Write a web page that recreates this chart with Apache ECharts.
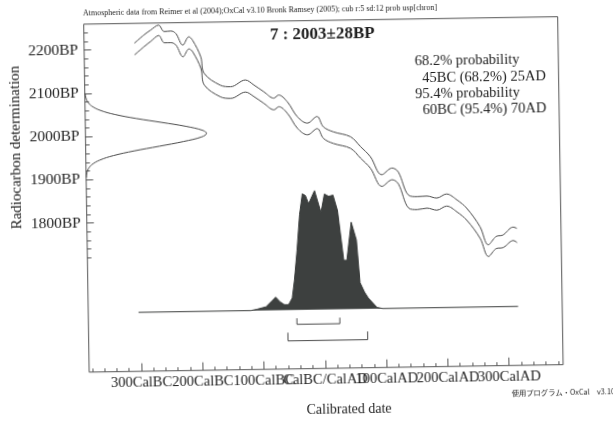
<!DOCTYPE html>
<html>
<head>
<meta charset="utf-8">
<script src="https://cdn.jsdelivr.net/npm/echarts@6/dist/echarts.min.js"></script>
<style>
html,body{margin:0;padding:0;background:#fff;overflow:hidden;}
#chart{width:613px;height:421px;transform:rotate(-0.9deg);transform-origin:306.5px 210.5px;}
</style>
</head>
<body>
<div id="chart"></div>
<script>
// Calibration curve envelope (IntCal04, ±1 sigma): calendar year (BC < 0) vs radiocarbon age BP
const curveYears = [-303,-287,-276,-263,-254,-243,-235,-224,-214,-208,-195,-190,-164,-147,-123,-109,-93,-77,-69,-55,-39,-23,-7,3,19,47,63,79,97,114,124,140,154,170,186,202,219,235,256,269,282,293,310,316];
const curveUpper = [2214,2233,2244,2255,2240,2241,2235,2208,2227,2219,2180,2142,2114,2110,2125,2113,2097,2082,2089,2073,2038,2023,2038,2014,2002,1990,1967,1943,1901,1916,1907,1853,1849,1850,1845,1854,1840,1820,1777,1735,1754,1757,1775,1772];
const curveLower = [2187,2206,2218,2231,2214,2214,2208,2181,2199,2192,2153,2115,2087,2083,2097,2086,2070,2055,2062,2046,2011,1996,2010,1987,1975,1963,1940,1916,1874,1889,1879,1823,1819,1822,1817,1826,1812,1792,1750,1708,1726,1728,1744,1739];

// Radiocarbon measurement 2003±28 BP as a relative probability profile
const sampleBP   = [2100,2090,2080,2070,2060,2050,2040,2030,2020,2010,2003,1995,1985,1975,1965,1955,1945,1935,1925,1915,1905];
const sampleProb = [0.003,0.008,0.023,0.057,0.126,0.245,0.42,0.63,0.83,0.97,1.0,0.96,0.81,0.61,0.40,0.23,0.115,0.05,0.019,0.006,0.002];

// Calibrated date: relative probability by calendar year
const calYears = [-303,-120,-110,-95,-85,-79,-72,-65,-58,-52,-48,-43,-38,-33,-28,-23,-13,-3,3,10,17,24,33,38,46,54,59,66,72,86,95,316];
const calProb  = [0,0,0.01,0.03,0.08,0.11,0.07,0.045,0.045,0.1,0.25,0.5,0.8,0.975,0.96,0.89,1.0,0.815,0.97,0.95,0.96,0.83,0.41,0.41,0.73,0.58,0.22,0.14,0.09,0.01,0,0];

// Calibrated ranges
const range68 = [-45, 25];
const range95 = [-60, 70];

// Axis ticks and labels
const xTickValues = [-300,-200,-100,0,100,200,300];
const xTickLabels = ['300CalBC','200CalBC','100CalBC','CalBC/CalAD','100CalAD','200CalAD','300CalAD'];
const yTickValues = [1800,1900,2000,2100,2200];
const yTickLabels = ['1800BP','1900BP','2000BP','2100BP','2200BP'];

// Text blocks
const headerText = 'Atmospheric data from Reimer et al (2004);OxCal v3.10 Bronk Ramsey (2005); cub r:5 sd:12 prob usp[chron]';
const sampleLabel = '7 : 2003\u00b128BP';
const rangeLines = ['68.2% probability', '  45BC (68.2%) 25AD', '95.4% probability', '  60BC (95.4%) 70AD'];
const xTitle = 'Calibrated date';
const yTitle = 'Radiocarbon determination';
const footerText = '使用プログラム・OxCal\u3000v3.10';

const SERIF = '"Liberation Serif", "Times New Roman", serif';
const INK = '#1e1e1e';
const LINE = '#4a4a4a';
const FRAME = '#555';

const xMinorTicks = [];
for (let v = -380; v <= 380; v += 20) xMinorTicks.push(v);
const yMinorTicks = [];
for (let v = 1720; v <= 2240; v += 20) yMinorTicks.push(v);

// Neighbouring calendar labels overlap, so they are split over two label rows at the same place
const xLabelsOdd = xTickValues.filter((_, i) => i % 2 === 0);
const xLabelsEven = xTickValues.filter((_, i) => i % 2 === 1);
const xLabelText = v => xTickLabels[xTickValues.indexOf(v)];

const zip = (a, b) => a.map((v, i) => [v, b[i]]);

function bracket(range, level, tickTop) {
  return [[range[0], tickTop], [range[0], level], [range[1], level], [range[1], tickTop]];
}

const X_MIN = -385, X_MAX = 388;
const Y_MIN = 1455, Y_MAX = 2260;

const noLine = { show: false, onZero: false };
const xLabelStyle = { margin: 4, showMinLabel: true, showMaxLabel: true, hideOverlap: false,
  formatter: xLabelText, fontFamily: SERIF, fontSize: 14.5, color: INK };

const chart = echarts.init(document.getElementById('chart'), null, { renderer: 'canvas' });

const option = {
  backgroundColor: '#fff',
  animation: false,
  grid: {
    left: 86.7, top: 20.7, width: 474, height: 348,
    show: true, borderColor: FRAME, borderWidth: 1, backgroundColor: 'transparent'
  },
  xAxis: [
    {
      type: 'value', min: X_MIN, max: X_MAX, position: 'bottom',
      axisLine: noLine, splitLine: { show: false },
      axisTick: { show: true, inside: true, length: 8, customValues: xTickValues, lineStyle: { color: FRAME } },
      axisLabel: Object.assign({ customValues: xLabelsOdd }, xLabelStyle)
    },
    {
      type: 'value', min: X_MIN, max: X_MAX, position: 'bottom',
      axisLine: noLine, splitLine: { show: false },
      axisTick: { show: true, inside: true, length: 3.5, customValues: xMinorTicks, lineStyle: { color: FRAME } },
      axisLabel: { show: false }
    },
    { type: 'value', min: 0, max: 474 / 121, show: false, axisLine: noLine },
    {
      type: 'value', min: X_MIN, max: X_MAX, position: 'bottom',
      axisLine: noLine, splitLine: { show: false }, axisTick: { show: false },
      axisLabel: Object.assign({ customValues: xLabelsEven }, xLabelStyle)
    }
  ],
  yAxis: [
    {
      type: 'value', min: Y_MIN, max: Y_MAX, position: 'left',
      axisLine: noLine, splitLine: { show: false },
      axisTick: { show: true, inside: true, length: 7, customValues: yTickValues, lineStyle: { color: FRAME } },
      axisLabel: {
        customValues: yTickValues, margin: 6, showMinLabel: true, showMaxLabel: true,
        formatter: v => yTickLabels[yTickValues.indexOf(v)],
        fontFamily: SERIF, fontSize: 15.5, color: INK
      }
    },
    {
      type: 'value', min: Y_MIN, max: Y_MAX, position: 'left',
      axisLine: noLine, splitLine: { show: false },
      axisTick: { show: true, inside: true, length: 4, customValues: yMinorTicks, lineStyle: { color: FRAME } },
      axisLabel: { show: false }
    },
    { type: 'value', min: -0.496, max: 2.43, show: false, axisLine: noLine }
  ],
  series: [
    {
      name: 'curve upper', type: 'line', xAxisIndex: 0, yAxisIndex: 0,
      data: zip(curveYears, curveUpper), smooth: 0.35, symbol: 'none',
      lineStyle: { color: LINE, width: 1 }
    },
    {
      name: 'curve lower', type: 'line', xAxisIndex: 0, yAxisIndex: 0,
      data: zip(curveYears, curveLower), smooth: 0.35, symbol: 'none',
      lineStyle: { color: LINE, width: 1 }
    },
    {
      name: 'measurement', type: 'line', xAxisIndex: 2, yAxisIndex: 0,
      data: zip(sampleProb, sampleBP), smooth: 0.4, symbol: 'none',
      lineStyle: { color: LINE, width: 1 }
    },
    {
      name: 'calibrated', type: 'line', xAxisIndex: 0, yAxisIndex: 2,
      data: zip(calYears, calProb), symbol: 'none',
      lineStyle: { color: '#3a3d3c', width: 1 },
      areaStyle: { color: '#3d403f', opacity: 1 }
    },
    {
      name: '68.2%', type: 'line', xAxisIndex: 0, yAxisIndex: 0,
      data: bracket(range68, 1558, 1572), symbol: 'none',
      lineStyle: { color: LINE, width: 1 }
    },
    {
      name: '95.4%', type: 'line', xAxisIndex: 0, yAxisIndex: 0,
      data: bracket(range95, 1520, 1539), symbol: 'none',
      lineStyle: { color: LINE, width: 1 }
    }
  ],
  graphic: [
    {
      type: 'text', x: 86, y: 10,
      style: { text: headerText, fontFamily: SERIF, fontSize: 8, fill: INK, verticalAlign: 'middle' }
    },
    {
      type: 'text', x: 325, y: 35,
      style: { text: sampleLabel, fontFamily: SERIF, fontSize: 17, fontWeight: 'bold', fill: INK, align: 'center', verticalAlign: 'middle' }
    },
    {
      type: 'text', x: 417, y: 55.5,
      style: { text: rangeLines.join('\n'), fontFamily: SERIF, fontSize: 14.5, lineHeight: 16.2, fill: INK, whiteSpace: 'pre' }
    },
    {
      type: 'text', x: 17, y: 143, rotation: Math.PI / 2,
      style: { text: yTitle, fontFamily: SERIF, fontSize: 15, fill: INK, align: 'center', verticalAlign: 'middle' }
    },
    {
      type: 'text', x: 346, y: 410,
      style: { text: xTitle, fontFamily: SERIF, fontSize: 14, fill: INK, align: 'center', verticalAlign: 'middle' }
    },
    {
      type: 'text', x: 612, y: 396,
      style: { text: footerText, fontFamily: '"Noto Sans CJK JP"', fontSize: 7.3, fill: INK, align: 'right', verticalAlign: 'middle' }
    }
  ]
};

chart.setOption(option);
</script>
</body>
</html>
